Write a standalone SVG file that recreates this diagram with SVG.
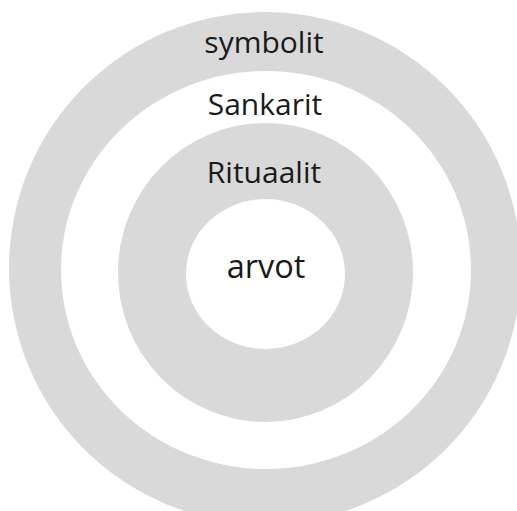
<svg xmlns="http://www.w3.org/2000/svg" width="517" height="511" viewBox="0 0 517 511">
  <style>
    .ring { fill: #d9d9d9; }
    .hole { fill: #ffffff; }
    .label { font-family: "Open Sans", "Noto Sans", sans-serif; fill: #1a1a1a; text-anchor: middle; font-size: 30px; }
  </style>
  <rect width="517" height="511" fill="#ffffff"/>
  <g id="symbolit">
    <ellipse class="ring" cx="265" cy="268" rx="256" ry="256"/>
    <text class="label" x="264" y="53">symbolit</text>
  </g>
  <g id="sankarit">
    <ellipse class="hole" cx="266" cy="270" rx="205" ry="199"/>
    <text class="label" x="265" y="115">Sankarit</text>
  </g>
  <g id="rituaalit">
    <ellipse class="ring" cx="265.5" cy="272.5" rx="147.5" ry="149.5"/>
    <text class="label" x="264" y="183">Rituaalit</text>
  </g>
  <g id="arvot">
    <ellipse class="hole" cx="265.5" cy="274" rx="79.5" ry="75"/>
    <text class="label" x="266" y="278" style="font-size:32.5px">arvot</text>
  </g>
</svg>
